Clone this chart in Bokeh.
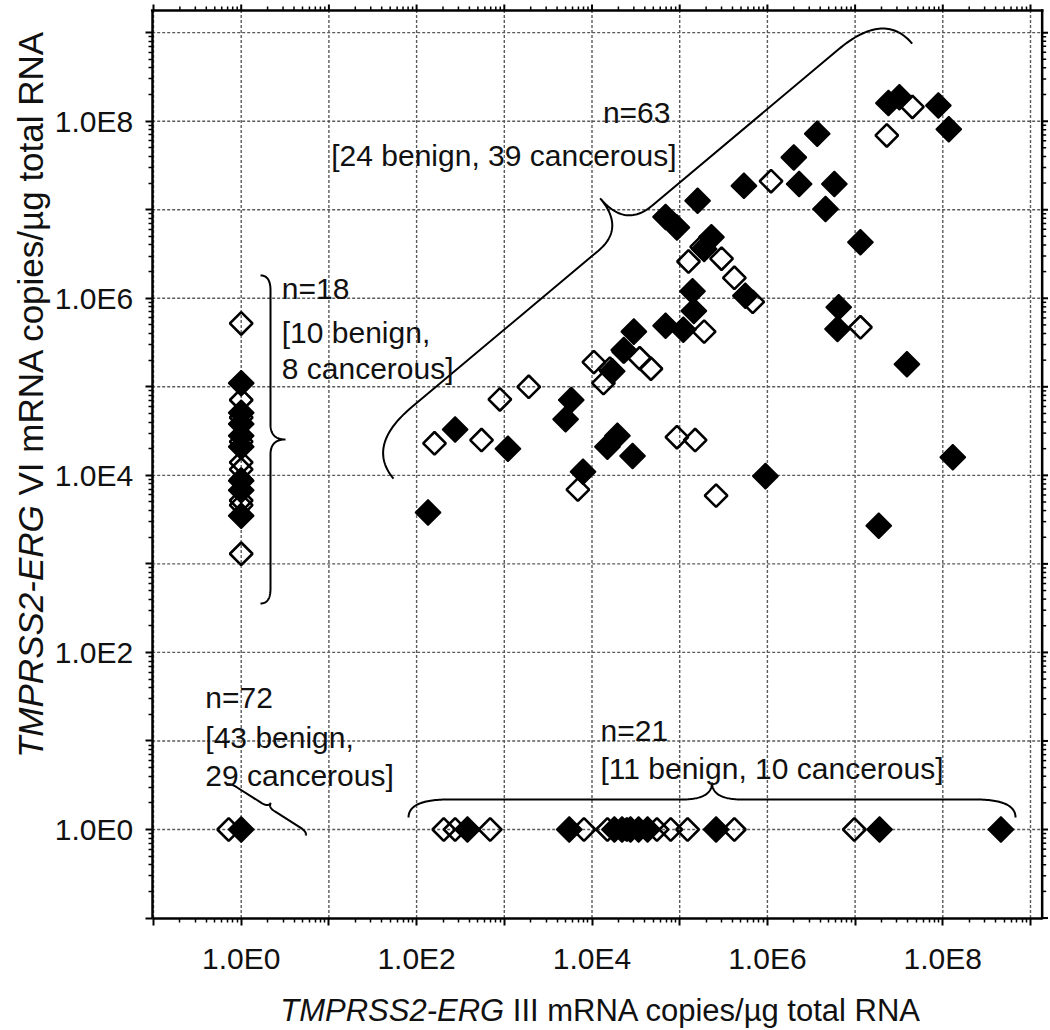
import numpy as np
from bokeh.plotting import figure
from bokeh.models import Range1d, LogAxis, FixedTicker, CustomJSTickFormatter, Label
from bokeh.embed import file_html
from bokeh.resources import INLINE

FONT = "Liberation Sans"

# ---------------- data (copies / ug total RNA) ----------------
# both assays negative -> plotted at (1, 1); benign marker slightly offset
dn_benign_x = [0.72]
dn_benign_y = [1.0]
dn_cancer_x = [1.0]
dn_cancer_y = [1.0]

# only VI positive (III negative -> x = 1)
vi_benign_y = [5.2e5, 7.1e4, 4.5e4, 2.4e4, 1.4e4, 1.17e4, 8.9e3, 5.2e3, 4.6e3, 1.3e3]
vi_cancer_y = [1.1e5, 5.1e4, 3.8e4, 2.8e4, 2.1e4, 8.7e3, 6.8e3, 3.5e3]

# only III positive (VI negative -> y = 1)
iii_benign_x = [204, 275, 690, 8.1e3, 1.5e4, 2.5e4, 5.5e4, 7.9e4, 1.23e5, 4.2e5, 9.8e6]
iii_cancer_x = [380, 5.5e3, 1.8e4, 2.2e4, 2.75e4, 3.4e4, 4.3e4, 2.6e5, 1.9e7, 4.6e8]

# both positive
both_benign_x = [160, 550, 890, 1.9e3, 6.9e3, 1.05e4, 1.35e4, 3.5e4, 4.7e4, 9.3e4, 1.5e5, 2.6e5,
                 1.26e5, 3.0e5, 4.2e5, 6.8e5, 1.9e5, 1.1e6, 1.15e7, 2.3e7, 4.5e7, 1.6e4, 2.3e4, 1.78e5]
both_benign_y = [2.3e4, 2.5e4, 7.2e4, 1.0e5, 6.9e3, 1.9e5, 1.1e5, 2.1e5, 1.6e5, 2.7e4, 2.5e4, 5.9e3,
                 2.6e6, 2.8e6, 1.7e6, 9.1e5, 4.2e5, 2.1e7, 4.7e5, 6.9e7, 1.45e8, 1.6e5, 2.5e5, 3.8e6]
both_cancer_x = [135, 275, 1.1e3, 5.0e3, 5.8e3, 7.9e3, 1.5e4, 1.95e4, 2.9e4, 1.7e4, 2.3e4, 3.0e4,
                 6.9e4, 1.1e5, 1.4e5, 1.45e5, 6.9e4, 9.3e4, 1.6e5, 1.9e5, 2.3e5, 5.6e5, 5.4e5,
                 2.0e6, 2.3e6, 3.7e6, 4.6e6, 5.8e6, 1.15e7, 6.5e6, 6.3e6, 3.9e7, 9.5e5, 1.86e7,
                 1.3e8, 2.4e7, 3.2e7, 8.9e7, 1.17e8]
both_cancer_y = [3.8e3, 3.3e4, 2.0e4, 4.3e4, 7.1e4, 1.1e4, 2.1e4, 2.8e4, 1.65e4, 1.5e5, 2.6e5, 4.2e5,
                 4.9e5, 4.4e5, 1.2e6, 7.2e5, 8.3e6, 6.3e6, 1.26e7, 3.6e6, 4.9e6, 1.07e6, 1.86e7,
                 3.9e7, 1.95e7, 7.2e7, 1.02e7, 1.95e7, 4.3e6, 7.9e5, 4.5e5, 1.8e5, 9.8e3, 2.7e3,
                 1.6e4, 1.6e8, 1.86e8, 1.5e8, 8.1e7]

benign_x = dn_benign_x + [1.0] * len(vi_benign_y) + iii_benign_x + both_benign_x
benign_y = dn_benign_y + vi_benign_y + [1.0] * len(iii_benign_x) + both_benign_y
cancer_x = dn_cancer_x + [1.0] * len(vi_cancer_y) + iii_cancer_x + both_cancer_x
cancer_y = dn_cancer_y + vi_cancer_y + [1.0] * len(iii_cancer_x) + both_cancer_y

tick_exponents = list(range(-1, 10))
major_ticks = [10.0 ** k for k in tick_exponents]
minor_ticks = [m * 10.0 ** k for k in range(-2, 10) for m in range(2, 10)]

# axis limits of the plotting area
X_LO, X_HI = 10 ** -1.015, 10 ** 9.133
Y_LO, Y_HI = 10 ** -1.0, 10 ** 9.25

# annotation texts: (text, x, y, align)
notes = [
    ("n=63", 7.85e4, 1.25e8, "right"),
    ("[24 benign, 39 cancerous]", 9.2e4, 4.1e7, "right"),
    ("n=18", 2.9, 1.29e6, "left"),
    ("[10 benign,", 2.9, 4.14e5, "left"),
    ("8 cancerous]", 2.9, 1.61e5, "left"),
    ("n=72", 0.39, 31.0, "left"),
    ("[43 benign,", 0.39, 10.9, "left"),
    ("29 cancerous]", 0.39, 4.07, "left"),
    ("n=21", 1.25e4, 13.1, "left"),
    ("[11 benign, 10 cancerous]", 1.25e4, 4.89, "left"),
]

# braces: (x0, y0, x1, y1, end-height px, cusp-height px, end-curl px, cusp-curl px)
braces = [
    (54.5, 9.2e3, 4.48e7, 7.5e8, 43, 39, 60, 35),
    (1.66, 1.81e6, 1.66, 357.0, 10, 15, 15, 15),
    (0.68, 3.14, 5.41, 0.855, 4, 5, 10, 8),
    (80.9, 1.366, 6.75e8, 1.366, 18, 17, 40, 30),
]

# ---------------- geometry ----------------
W, H = 1048, 1028
KX, KY = 87.7, 88.54          # px per decade
X1_PX, Y1_PX = 240.7, 829.0   # canvas position of the value 1 on each axis

x_range = Range1d(10 ** ((0 - X1_PX) / KX), 10 ** ((W - X1_PX) / KX))
y_range = Range1d(10 ** ((Y1_PX - H) / KY), 10 ** ((Y1_PX - 0) / KY))


def brace_path(x0, y0, x1, y1, h1, h2, r1, r2, n=40):
    ax, ay = np.log10(x0) * KX, np.log10(y0) * KY
    bx, by = np.log10(x1) * KX, np.log10(y1) * KY
    dx, dy = bx - ax, by - ay
    L = np.hypot(dx, dy)
    tx, ty = dx / L, dy / L
    nx, ny = -ty, tx
    t = np.linspace(0, 1, n)[:, None]

    def q(p0, c, p1):
        return (1 - t) ** 2 * np.array(p0) + 2 * (1 - t) * t * np.array(c) + t ** 2 * np.array(p1)

    m = L / 2
    segs = [
        q((0, 0), (0, h1), (r1, h1)),
        np.array([(r1, h1), (m - r2, h1)]),
        q((m - r2, h1), (m, h1), (m, h1 + h2)),
        q((m, h1 + h2), (m, h1), (m + r2, h1)),
        np.array([(m + r2, h1), (L - r1, h1)]),
        q((L - r1, h1), (L, h1), (L, 0)),
    ]
    uv = np.vstack(segs)
    px = ax + uv[:, 0] * tx + uv[:, 1] * nx
    py = ay + uv[:, 0] * ty + uv[:, 1] * ny
    return 10 ** (px / KX), 10 ** (py / KY)


p = figure(x_axis_type="log", y_axis_type="log",
           x_axis_location=None, y_axis_location=None,
           x_range=x_range, y_range=y_range,
           width=W, height=H, min_border=0,
           output_backend="svg", toolbar_location=None)
p.outline_line_color = None
p.background_fill_color = "white"
p.border_fill_color = "white"
p.grid.visible = False

tx_major = [t for t in major_ticks if X_LO <= t <= X_HI]
tx_minor = [t for t in minor_ticks if X_LO <= t <= X_HI]
ty_major = [t for t in major_ticks if Y_LO <= t <= Y_HI]
ty_minor = [t for t in minor_ticks if Y_LO <= t <= Y_HI]

x_ticker = FixedTicker(ticks=tx_major, minor_ticks=tx_minor)
y_ticker = FixedTicker(ticks=ty_major, minor_ticks=ty_minor)
fmt = CustomJSTickFormatter(code="""
const e = Math.round(Math.log10(tick));
return (e >= 0 && e % 2 === 0) ? "1.0E" + e : "";
""")


def make_axis(loc, bounds, ticker):
    ax = LogAxis(fixed_location=loc, bounds=bounds, ticker=ticker, formatter=fmt)
    ax.axis_line_width = 2.5
    ax.axis_line_color = "black"
    ax.major_tick_line_color = "black"
    ax.minor_tick_line_color = "black"
    ax.major_tick_line_width = 2
    ax.minor_tick_line_width = 1.5
    ax.major_tick_in = 0
    ax.minor_tick_in = 0
    ax.major_tick_out = 7
    ax.minor_tick_out = 4
    ax.major_label_text_font = FONT
    ax.major_label_text_font_size = "30px"
    ax.major_label_text_color = "#111111"
    return ax


# grid lines (dashed, every decade)
gx = [t for t in major_ticks if X_LO < t < X_HI]
gy = [t for t in major_ticks if Y_LO < t < Y_HI]
grid_style = dict(line_color="#5a5a5a", line_dash="3 2", line_width=1.4)
p.segment(x0=gx, y0=[Y_LO] * len(gx), x1=gx, y1=[Y_HI] * len(gx), **grid_style)
p.segment(x0=[X_LO] * len(gy), y0=gy, x1=[X_HI] * len(gy), y1=gy, **grid_style)

bottom_ax = make_axis(Y_LO, (X_LO, X_HI), x_ticker)
bottom_ax.major_label_standoff = 17
left_ax = make_axis(X_LO, (Y_LO, Y_HI), y_ticker)
left_ax.major_label_standoff = 12
p.add_layout(bottom_ax, "below")
p.add_layout(left_ax, "left")

# top and right frame edges with outward ticks
up5, up3 = 10 ** (6 / KY), 10 ** (4 / KY)
rt5, rt3 = 10 ** (6 / KX), 10 ** (4 / KX)
p.segment(x0=tx_major, y0=[Y_HI] * len(tx_major), x1=tx_major, y1=[Y_HI * up5] * len(tx_major),
          line_color="black", line_width=2)
p.segment(x0=tx_minor, y0=[Y_HI] * len(tx_minor), x1=tx_minor, y1=[Y_HI * up3] * len(tx_minor),
          line_color="black", line_width=1.5)
p.segment(x0=[X_HI] * len(ty_major), y0=ty_major, x1=[X_HI * rt5] * len(ty_major), y1=ty_major,
          line_color="black", line_width=2)
p.segment(x0=[X_HI] * len(ty_minor), y0=ty_minor, x1=[X_HI * rt3] * len(ty_minor), y1=ty_minor,
          line_color="black", line_width=1.5)
p.segment(x0=[X_LO, X_HI], y0=[Y_HI, Y_LO], x1=[X_HI, X_HI], y1=[Y_HI, Y_HI],
          line_color="black", line_width=2.5, line_cap="square")

# braces
for b in braces:
    bx_, by_ = brace_path(*b)
    p.line(bx_, by_, line_color="black", line_width=2)

# points
p.scatter(benign_x, benign_y, marker="square", angle=np.pi / 4, size=16,
          fill_color=None, line_color="black", line_width=2.6)
p.scatter(cancer_x, cancer_y, marker="square", angle=np.pi / 4, size=18,
          fill_color="black", line_color="black", line_width=1.5)

# annotations
for text, x, y, align in notes:
    p.add_layout(Label(x=x, y=y, text=text, text_align=align, text_baseline="alphabetic",
                       text_font=FONT, text_font_size="30px", text_color="#111111"))

# axis titles (mixed italic / regular)
XT_Y = 10 ** -2.044
p.add_layout(Label(x=997.0, y=XT_Y, text="TMPRSS2-ERG", text_align="right",
                   text_baseline="alphabetic", text_font=FONT, text_font_style="italic",
                   text_font_size="31px", text_color="#111111"))
p.add_layout(Label(x=1.25e3, y=XT_Y, text="III mRNA copies/\u00b5g total RNA", text_align="left",
                   text_baseline="alphabetic", text_font=FONT,
                   text_font_size="31px", text_color="#111111"))

YT_X = 10 ** -2.4025
p.add_layout(Label(x=YT_X, y=4.6e3, text="TMPRSS2-ERG", text_align="right", angle=np.pi / 2,
                   text_baseline="alphabetic", text_font=FONT, text_font_style="italic",
                   text_font_size="35px", text_color="#111111"))
p.add_layout(Label(x=YT_X, y=5.92e3, text="VI mRNA copies/\u00b5g total RNA", text_align="left",
                   angle=np.pi / 2, text_baseline="alphabetic", text_font=FONT,
                   text_font_size="35px", text_color="#111111"))

open("out.html", "w").write(file_html(p, INLINE))
